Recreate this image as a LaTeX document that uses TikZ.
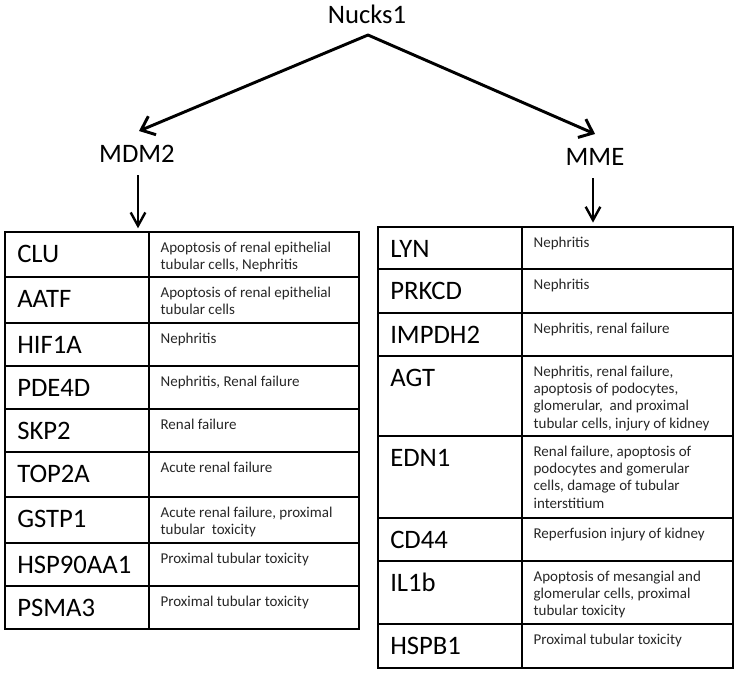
\documentclass[tikz,border=0pt]{standalone}
\usepackage{fontspec}
\setmainfont{Carlito}
\usetikzlibrary{arrows.meta}
\newcommand\trow[8]{%
  \node[cellbox, minimum width={(#3-#2)*0.75pt}, minimum height={(#6-#5)*0.75pt}] (#1g) at (#2,#5) {};
  \node[cellbox, minimum width={(#4-#3)*0.75pt}, minimum height={(#6-#5)*0.75pt}] (#1d) at (#3,#5) {};
  \node[genet] at ([xshift=9pt,yshift=-22.5pt]#1g.north west) {#7};
  \node[desct] at ([xshift=8.5pt,yshift=-5.9pt]#1d.north west) {\strut #8};
}
\begin{document}
\begin{tikzpicture}[x=0.75pt,y=-0.75pt,
  cellbox/.style={draw, line width=1.3pt, anchor=north west, inner sep=0pt, outer sep=0pt},
  genet/.style={anchor=base west, inner sep=0pt, font=\fontsize{20}{24}\selectfont},
  desct/.style={anchor=north west, inner sep=0pt, align=left, font=\fontsize{11.25}{13}\selectfont, text=black!85},
  lbl/.style={anchor=base, inner sep=0pt, font=\fontsize{20}{24}\selectfont},
  arr/.style={line width=2.2pt, -{Straight Barb[length=9pt,width=15pt]}},
  arrd/.style={line width=1.8pt, -{Straight Barb[length=10pt,width=11pt]}}]
\useasboundingbox (0,0) rectangle (738,675);
% top labels
\node[lbl] (nucks) at (367,23) {Nucks1};
\node[lbl] (mdm2) at (137,162) {MDM2};
\node[lbl] (mme) at (595,165) {MME};
\coordinate (apex) at (368,35);
\coordinate (tipL) at (139,131);
\coordinate (tipR) at (595,134);
\draw[arr, line cap=round] (apex) -- (tipL);
\draw[arr, line cap=round] (apex) -- (tipR);
\draw[arrd] ([xshift=0.75pt,yshift=-9.75pt]mdm2.south) -- ([xshift=0.75pt,yshift=-49.5pt]mdm2.south);
\draw[arrd] ([xshift=-1.5pt,yshift=-9.75pt]mme.south) -- ([xshift=-1.5pt,yshift=-43pt]mme.south);
% left table
\trow{l1}{5}{149}{359}{232}{277}{CLU}{Apoptosis of renal epithelial\\tubular cells, Nephritis}
\trow{l2}{5}{149}{359}{277}{323}{AATF}{Apoptosis of renal epithelial\\tubular cells}
\trow{l3}{5}{149}{359}{323}{366}{HIF1A}{Nephritis}
\trow{l4}{5}{149}{359}{366}{409}{PDE4D}{Nephritis, Renal failure}
\trow{l5}{5}{149}{359}{409}{452}{SKP2}{Renal failure}
\trow{l6}{5}{149}{359}{452}{497}{TOP2A}{Acute renal failure}
\trow{l7}{5}{149}{359}{497}{543}{GSTP1}{Acute renal failure, proximal\\tubular\ \ toxicity}
\trow{l8}{5}{149}{359}{543}{586}{HSP90AA1}{Proximal tubular toxicity}
\trow{l9}{5}{149}{359}{586}{629}{PSMA3}{Proximal tubular toxicity}
% right table
\trow{r1}{378}{522}{733}{227}{269}{LYN}{Nephritis}
\trow{r2}{378}{522}{733}{269}{313}{PRKCD}{Nephritis}
\trow{r3}{378}{522}{733}{313}{356}{IMPDH2}{Nephritis, renal failure}
\trow{r4}{378}{522}{733}{356}{436}{AGT}{Nephritis, renal failure,\\apoptosis of podocytes,\\glomerular,\ \ and proximal\\tubular cells, injury of kidney}
\trow{r5}{378}{522}{733}{436}{518}{EDN1}{Renal failure, apoptosis of\\podocytes and gomerular\\cells, damage of tubular\\interstitium}
\trow{r6}{378}{522}{733}{518}{561}{CD44}{Reperfusion injury of kidney}
\trow{r7}{378}{522}{733}{561}{624}{IL1b}{Apoptosis of mesangial and\\glomerular cells, proximal\\tubular toxicity}
\trow{r8}{378}{522}{733}{624}{668}{HSPB1}{Proximal tubular toxicity}
\end{tikzpicture}
\end{document}
